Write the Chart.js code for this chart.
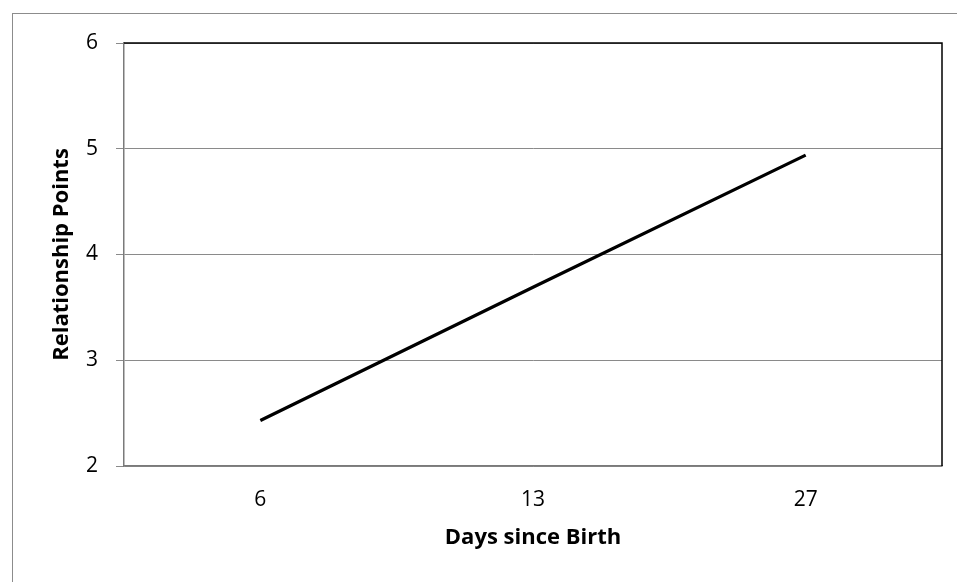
<!DOCTYPE html>
<html>
<head>
<meta charset="utf-8">
<script src="https://cdn.jsdelivr.net/npm/chart.js@4/dist/chart.umd.min.js"></script>
<style>
  html, body { margin: 0; padding: 0; background: #fff; overflow: hidden; }
  #wrap { position: relative; width: 957px; height: 582px; }
  #frame {
    position: absolute; left: 12px; top: 13px; width: 1000px; height: 700px;
    border-left: 1px solid #8c8c8c; border-top: 1px solid #8c8c8c;
    pointer-events: none;
  }
</style>
</head>
<body>
<div id="wrap">
  <canvas id="lineChart" width="957" height="582"></canvas>
  <div id="frame"></div>
</div>
<script>
const days = ['6', '13', '27'];
const points = [2.43, 3.69, 4.94];
const yTicks = [2, 3, 4, 5, 6];

const fontFamily = "'Open Sans', 'Liberation Sans', sans-serif";

// top and right edges of the plot box are black
const plotFrame = {
    id: 'plotFrame',
    afterDraw(chart) {
        const { ctx, chartArea: a } = chart;
        ctx.save();
        ctx.strokeStyle = '#000';
        ctx.lineWidth = 1.5;
        ctx.beginPath();
        ctx.moveTo(a.left, a.top);
        ctx.lineTo(a.right, a.top);
        ctx.lineTo(a.right, a.bottom);
        ctx.stroke();
        ctx.restore();
    }
};

let lineCtx = document.getElementById('lineChart').getContext('2d');
let lineChart = new Chart(lineCtx, {
    type: 'line',
    data: {
        labels: days,
        datasets: [{
            label: 'Relationship Points',
            data: points,
            borderWidth: 3.2,
            borderColor: '#000',
            fill: false,
            pointRadius: 0,
            tension: 0
        }]
    },
    options: {
        responsive: false,
        animation: false,
        layout: {
            padding: { left: 45, top: 43, right: 15, bottom: 27 }
        },
        plugins: {
            legend: { display: false },
            tooltip: { enabled: false }
        },
        scales: {
            x: {
                offset: true,
                grid: { display: false, drawTicks: false },
                border: { display: true, color: '#7a7a7a', width: 1.5 },
                ticks: {
                    color: '#000',
                    padding: 21,
                    font: { family: fontFamily, size: 21 }
                },
                title: {
                    display: true,
                    text: 'Days since Birth',
                    color: '#000',
                    font: { family: fontFamily, size: 22, weight: 'bold' }
                },
                afterFit: function (scale) { scale.height = 89; }
            },
            y: {
                min: 2,
                max: 6,
                afterBuildTicks: function (scale) {
                    scale.ticks = yTicks.map(v => ({ value: v }));
                },
                grid: { color: '#8a8a8a', lineWidth: 1, tickLength: 8 },
                border: { display: true, color: '#7a7a7a', width: 1.5 },
                ticks: {
                    color: '#000',
                    padding: 18,
                    font: { family: fontFamily, size: 21 }
                },
                title: {
                    display: true,
                    text: 'Relationship Points',
                    color: '#000',
                    font: { family: fontFamily, size: 22, weight: 'bold' }
                },
                afterFit: function (scale) { scale.width = 79; }
            }
        }
    },
    plugins: [plotFrame]
});
</script>
</body>
</html>
